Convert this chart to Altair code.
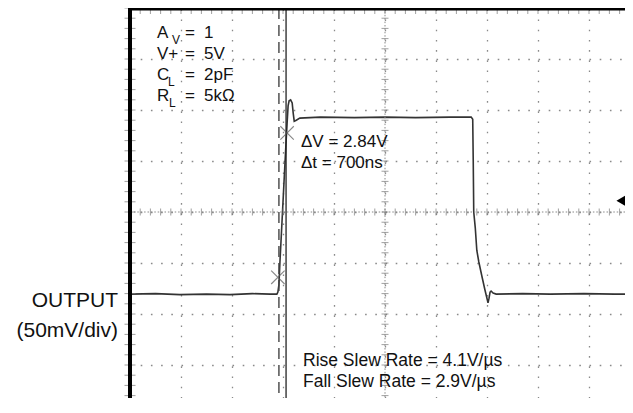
import altair as alt
import numpy as np
import pandas as pd

# ---------------- data (in screen divisions) ----------------
# time axis: 0 = left edge of graticule, 1 div per major line
# voltage axis: 0 = centre line, 1 div per major line (50mV/div)
trace_t = [0.00, 0.50, 0.98, 1.50, 1.96, 2.40, 2.75, 2.88, 2.90, 2.92, 2.94, 2.98,
           3.02, 3.06, 3.08, 3.10, 3.12, 3.15, 3.18, 3.20, 3.22, 3.26, 3.33, 3.73,
           4.40, 5.00, 5.60, 6.28, 6.69, 6.72, 6.73, 6.74, 6.77, 6.80, 6.84, 6.90,
           6.96, 7.02, 7.04, 7.06, 7.08, 7.12, 7.18, 7.70, 8.24, 8.90, 9.50, 9.87]
trace_v = [-1.61, -1.60, -1.62, -1.61, -1.62, -1.60, -1.61, -1.61, -1.57, -1.43, -0.98, -0.20,
           0.59, 1.37, 1.73, 2.08, 2.18, 2.20, 2.14, 1.94, 1.78, 1.80, 1.84, 1.86,
           1.85, 1.86, 1.85, 1.86, 1.86, 1.82, 1.02, 0.00, -0.31, -0.75, -0.98, -1.26,
           -1.53, -1.78, -1.69, -1.57, -1.55, -1.59, -1.61, -1.60, -1.61, -1.60, -1.61, -1.61]

cursor_dashed_t = [2.92]
cursor_solid_t = [3.06]
cross_t = [3.08, 2.90]
cross_v = [1.55, -1.28]
ground_marker_v = [0.22]

params_main = ["A", "V+", "C", "R"]
params_sub = ["V", "", "L", "L"]
params_val = ["1", "5V", "2pF", "5k\u03a9"]
meas_lines = ["\u0394V = 2.84V", "\u0394t = 700ns"]
slew_lines = ["Rise Slew Rate = 4.1V/\u00b5s", "Fall Slew Rate = 2.9V/\u00b5s"]
ylabel_lines = ["OUTPUT", "(50mV/div)"]

# ---------------- geometry ----------------
DIV = 51.0
W = 495
H = 390
x_dom = [0, W / DIV]
y_dom = [4 - H / DIV, 4]
FONT = "Liberation Sans"
GRID = "#8a8a8a"

xs = alt.Scale(domain=x_dom, nice=False, zero=False)
ys = alt.Scale(domain=y_dom, nice=False, zero=False)

trace_df = pd.DataFrame({"t": trace_t, "v": trace_v})

base_line = alt.Chart(trace_df).mark_line(color="#333333", strokeWidth=1.6, interpolate="linear", clip=True).encode(
    x=alt.X("t:Q", scale=xs,
            axis=alt.Axis(orient="top", values=list(range(0, 10)), grid=True, gridColor=GRID,
                          gridDash=[1.6, 8.6], gridWidth=1.3, labels=False, ticks=False,
                          domain=False, title=None)),
    y=alt.Y("v:Q", scale=ys,
            axis=alt.Axis(orient="left", values=list(range(-3, 5)), grid=True, gridColor=GRID,
                          gridDash=[1.6, 8.6], gridWidth=1.3, labels=False, ticks=False,
                          domain=False, title=None)),
    order=alt.Order("t:Q"),
)

# centre lines (denser dots)
centre_h = alt.Chart(pd.DataFrame({"v": [0]})).mark_rule(color=GRID, strokeWidth=1, strokeDash=[1.5, 1.9]).encode(
    y=alt.Y("v:Q", scale=ys))
centre_v = alt.Chart(pd.DataFrame({"t": [5]})).mark_rule(color=GRID, strokeWidth=1, strokeDash=[1.5, 1.9]).encode(
    x=alt.X("t:Q", scale=xs))

minor_t = np.round(np.arange(0, 9.7, 0.2), 3)
minor_v = np.round(np.arange(-3.6, 4.01, 0.2), 3)
mt_df = pd.DataFrame({"t": minor_t})
mv_df = pd.DataFrame({"v": minor_v})

ticks_h_centre = alt.Chart(mt_df).mark_tick(orient="vertical", size=7, thickness=1, color="#777777").encode(
    x=alt.X("t:Q", scale=xs), y=alt.datum(0))
ticks_v_centre = alt.Chart(mv_df).mark_tick(orient="horizontal", size=7, thickness=1, color="#777777").encode(
    y=alt.Y("v:Q", scale=ys), x=alt.datum(5))
ticks_top = alt.Chart(mt_df).mark_tick(orient="vertical", size=12, thickness=1, color="#777777").encode(
    x=alt.X("t:Q", scale=xs), y=alt.datum(4))
ticks_left = alt.Chart(mv_df).mark_tick(orient="horizontal", size=11, thickness=1, color="#777777").encode(
    y=alt.Y("v:Q", scale=ys), x=alt.datum(0))

border_left = alt.Chart(pd.DataFrame({"a": [0]})).mark_rule(color="black", strokeWidth=4).encode(
    x=alt.value(0), y=alt.value(0), y2=alt.value(H))
border_top = alt.Chart(pd.DataFrame({"a": [0]})).mark_rule(color="black", strokeWidth=3).encode(
    x=alt.value(0), x2=alt.value(W), y=alt.value(1))

cur_d = alt.Chart(pd.DataFrame({"t": cursor_dashed_t})).mark_rule(color="#444444", strokeWidth=1.4,
                                                                   strokeDash=[11, 6]).encode(
    x=alt.X("t:Q", scale=xs))
cur_s = alt.Chart(pd.DataFrame({"t": cursor_solid_t})).mark_rule(color="#222222", strokeWidth=1.3).encode(
    x=alt.X("t:Q", scale=xs))

crosses = alt.Chart(pd.DataFrame({"t": cross_t, "v": cross_v})).mark_point(
    shape="M-1,-1L1,1M-1,1L1,-1", size=180, filled=False, color="#555555", strokeWidth=1.1).encode(
    x=alt.X("t:Q", scale=xs), y=alt.Y("v:Q", scale=ys))

# channel ground marker sits at the right edge of the screen
gmark = alt.Chart(pd.DataFrame({"v": ground_marker_v})).mark_point(
    shape="triangle-left", size=110, filled=True, color="black", opacity=1).encode(
    x=alt.value(W - 4), y=alt.Y("v:Q", scale=ys))

# ---------------- text annotations (pixel positions in plot area) ----------------
texts = []
def txt(s, px, py, size=17, align="left"):
    texts.append(
        alt.Chart(pd.DataFrame({"a": [0]})).mark_text(
            text=s, font=FONT, fontSize=size, align=align, baseline="alphabetic", color="#111111"
        ).encode(x=alt.value(px), y=alt.value(py))
    )

rows_y = [30, 51, 72, 93]
sub_x = [42, None, 38, 39]
for i in range(4):
    txt(params_main[i], 27, rows_y[i])
    if params_sub[i]:
        txt(params_sub[i], sub_x[i], rows_y[i] + 6, size=12)
    txt("=", 55, rows_y[i])
    txt(params_val[i], 74, rows_y[i])

txt(meas_lines[0], 171, 139)
txt(meas_lines[1], 171, 160)
txt(slew_lines[0], 173, 358, size=17.5)
txt(slew_lines[1], 173, 379, size=17.5)
txt(ylabel_lines[0], -12, 299, size=21, align="right")
txt(ylabel_lines[1], -12, 329, size=21, align="right")

chart = alt.layer(
    base_line, centre_h, centre_v, ticks_h_centre, ticks_v_centre, ticks_top, ticks_left,
    cur_d, cur_s, crosses, gmark, border_left, border_top, *texts
).properties(
    width=W, height=H,
    autosize=alt.AutoSizeParams(type="none"),
    padding={"left": 122, "top": 0, "right": 0, "bottom": 0},
    background="white",
).configure_view(strokeWidth=0)

chart.save("out.html", embed_options={"renderer": "svg", "actions": False})
